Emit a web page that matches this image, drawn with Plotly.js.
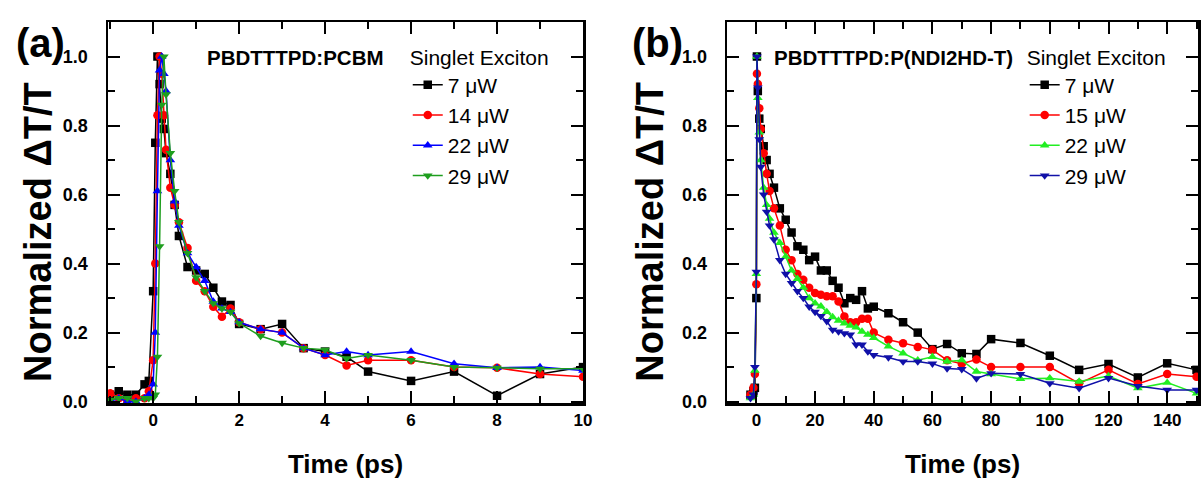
<!DOCTYPE html>
<html><head><meta charset="utf-8">
<script src="https://cdn.plot.ly/plotly-3.0.1.min.js"></script>
<style>html,body{margin:0;padding:0;background:#fff;} #chart{width:1203px;height:492px;}</style>
</head><body><div id="chart"></div>
<script>
// ---- Panel (a): PBDTTTPD:PCBM ----
const timeA = [-1, -0.8, -0.6, -0.4, -0.2, -0.1, 0, 0.05, 0.1, 0.15, 0.2, 0.25, 0.3, 0.4, 0.5, 0.6, 0.8, 1.0, 1.2, 1.4, 1.6, 1.8, 2.0, 2.5, 3.0, 3.5, 4.0, 4.5, 5, 6, 7, 8, 9, 10];
const a7uW  = [0.02, 0.03, 0.02, 0.02, 0.05, 0.06, 0.32, 0.75, 1.0, 0.92, 0.82, 0.79, 0.72, 0.66, 0.57, 0.48, 0.39, 0.38, 0.37, 0.33, 0.29, 0.28, 0.225, 0.21, 0.225, 0.155, 0.145, 0.13, 0.087, 0.06, 0.087, 0.017, 0.08, 0.1];
const a14uW = [0.024, 0.01, 0.0, 0.01, 0.01, 0.03, 0.12, 0.40, 0.83, 1.0, 0.95, 0.83, 0.73, 0.62, 0.57, 0.52, 0.445, 0.35, 0.32, 0.275, 0.246, 0.27, 0.23, 0.21, 0.20, 0.155, 0.135, 0.105, 0.12, 0.12, 0.10, 0.098, 0.08, 0.072];
const a22uW = [0.0, 0.01, 0.0, 0.0, 0.01, 0.02, 0.05, 0.20, 0.61, 0.96, 1.0, 0.95, 0.90, 0.70, 0.58, 0.51, 0.43, 0.39, 0.35, 0.29, 0.27, 0.26, 0.23, 0.21, 0.20, 0.155, 0.135, 0.145, 0.135, 0.145, 0.11, 0.098, 0.10, 0.09];
const a29uW = [0.005, 0.01, 0.01, 0.0, 0.01, 0.01, 0.01, 0.02, 0.13, 0.45, 0.86, 1.0, 0.89, 0.72, 0.61, 0.52, 0.43, 0.36, 0.32, 0.285, 0.27, 0.26, 0.227, 0.19, 0.17, 0.155, 0.15, 0.125, 0.135, 0.12, 0.10, 0.098, 0.095, 0.095];
const labelsA = ['7 \u03bcW', '14 \u03bcW', '22 \u03bcW', '29 \u03bcW'];
const xTickValsA = [0, 2, 4, 6, 8, 10];

// ---- Panel (b): PBDTTTPD:P(NDI2HD-T) ----
const timeB = [-2, -1, -0.5, 0, 0.2, 0.5, 1, 1.5, 2.5, 3.5, 4.5, 6, 8, 10, 12, 14, 16, 18, 20, 22, 24, 26, 28, 30, 32, 34, 36, 38, 40, 45, 50, 55, 60, 65, 70, 75, 80, 90, 100, 110, 120, 130, 140, 150];
const b7uW  = [0.02, 0.03, 0.04, 0.3, 1.0, 0.9, 0.82, 0.79, 0.74, 0.70, 0.66, 0.62, 0.56, 0.527, 0.49, 0.45, 0.44, 0.41, 0.42, 0.38, 0.38, 0.35, 0.33, 0.285, 0.30, 0.295, 0.32, 0.27, 0.275, 0.256, 0.23, 0.20, 0.152, 0.167, 0.14, 0.138, 0.181, 0.17, 0.133, 0.092, 0.109, 0.07, 0.111, 0.092];
const b15uW = [0.02, 0.04, 0.08, 0.34, 0.95, 0.92, 0.85, 0.79, 0.72, 0.66, 0.61, 0.56, 0.51, 0.44, 0.41, 0.37, 0.353, 0.33, 0.315, 0.31, 0.305, 0.305, 0.29, 0.247, 0.23, 0.23, 0.24, 0.24, 0.20, 0.179, 0.169, 0.158, 0.15, 0.12, 0.11, 0.122, 0.10, 0.10, 0.10, 0.053, 0.092, 0.051, 0.08, 0.072];
const b22uW = [0.01, 0.02, 0.09, 0.37, 1.0, 0.88, 0.78, 0.70, 0.62, 0.57, 0.53, 0.49, 0.46, 0.42, 0.38, 0.356, 0.33, 0.30, 0.285, 0.276, 0.26, 0.245, 0.235, 0.227, 0.22, 0.215, 0.203, 0.194, 0.185, 0.16, 0.14, 0.12, 0.13, 0.116, 0.12, 0.087, 0.08, 0.066, 0.068, 0.058, 0.074, 0.039, 0.055, 0.024];
const b29uW = [0.01, 0.02, 0.1, 0.376, 1.0, 0.91, 0.76, 0.68, 0.60, 0.55, 0.51, 0.47, 0.41, 0.37, 0.343, 0.32, 0.30, 0.275, 0.26, 0.248, 0.233, 0.208, 0.203, 0.198, 0.194, 0.165, 0.165, 0.145, 0.135, 0.128, 0.116, 0.116, 0.11, 0.096, 0.094, 0.067, 0.082, 0.08, 0.053, 0.039, 0.068, 0.045, 0.034, 0.034];
const labelsB = ['7 \u03bcW', '15 \u03bcW', '22 \u03bcW', '29 \u03bcW'];
const xTickValsB = [0, 20, 40, 60, 80, 100, 120, 140];

// ---- shared y ticks ----
const yTickVals = [0, 0.2, 0.4, 0.6, 0.8, 1.0];
const yTickText = ['0.0', '0.2', '0.4', '0.6', '0.8', '1.0'];

const FONT = 'Liberation Sans, Arial, sans-serif';
const symbols = ['square', 'circle', 'triangle-up', 'triangle-down'];
const colorsA = ['#000000', '#ff0000', '#0000ff', '#1e9e1e'];
const colorsB = ['#000000', '#ff0000', '#22ee22', '#1010a8'];
const seriesA = [a7uW, a14uW, a22uW, a29uW];
const seriesB = [b7uW, b15uW, b22uW, b29uW];
const bold = (arr) => arr.map(v => '<b>' + v + '</b>');

const traces = [];
seriesA.forEach((ys, i) => traces.push({
  x: timeA, y: ys, name: labelsA[i], type: 'scatter', mode: 'lines+markers',
  xaxis: 'x', yaxis: 'y',
  line: {color: colorsA[i], width: 1.5},
  marker: {symbol: symbols[i], size: 8.5, color: colorsA[i]}
}));
seriesB.forEach((ys, i) => traces.push({
  x: timeB, y: ys, name: labelsB[i], type: 'scatter', mode: 'lines+markers',
  xaxis: 'x2', yaxis: 'y2', legend: 'legend2',
  line: {color: colorsB[i], width: 1.5},
  marker: {symbol: symbols[i], size: 8.5, color: colorsB[i]}
}));
// empty traces that only activate the minor-tick overlay axes
traces.push({x: [], y: [], xaxis: 'x3', yaxis: 'y3', type: 'scatter', showlegend: false});
traces.push({x: [], y: [], xaxis: 'x4', yaxis: 'y4', type: 'scatter', showlegend: false});

const MAJOR = {ticks: 'inside', ticklen: 12, tickwidth: 2, tickcolor: '#000'};
const MINORT = {ticks: 'inside', ticklen: 7, tickwidth: 2, tickcolor: '#000'};

function xMain(domain, range, vals, anchor) {
  return Object.assign({
    domain: domain, range: range, anchor: anchor,
    tickmode: 'array', tickvals: vals, ticktext: bold(vals),
    showgrid: false, zeroline: false, showline: true, linecolor: '#000', linewidth: 2.5, mirror: 'allticks',
    tickfont: {family: FONT, size: 17, color: '#000'},
    title: {text: '<b>Time (ps)</b>', font: {family: FONT, size: 26, color: '#000'}, standoff: 26}
  }, MAJOR);
}
function yMain(anchor) {
  return Object.assign({
    anchor: anchor, range: [-0.004, 1.1],
    tickmode: 'array', tickvals: yTickVals, ticktext: bold(yTickText),
    showgrid: false, zeroline: false, showline: true, linecolor: '#000', linewidth: 2.5, mirror: 'allticks',
    tickfont: {family: FONT, size: 18, color: '#000'},
    ticklabelstandoff: 14
  }, MAJOR);
}
function xMinor(domain, range, dtick, anchor, over) {
  return Object.assign({
    domain: domain, range: range, anchor: anchor, overlaying: over, side: 'bottom',
    dtick: dtick, tick0: 0, showticklabels: false,
    showgrid: false, zeroline: false, showline: true, linecolor: '#000', linewidth: 2.5, mirror: 'allticks'
  }, MINORT);
}
function yMinor(anchor, over) {
  return Object.assign({
    anchor: anchor, overlaying: over, side: 'left', range: [-0.004, 1.1],
    dtick: 0.1, tick0: 0, showticklabels: false,
    showgrid: false, zeroline: false, showline: true, linecolor: '#000', linewidth: 2.5, mirror: 'allticks'
  }, MINORT);
}

const legendCommon = {
  bgcolor: 'rgba(0,0,0,0)', borderwidth: 0, yanchor: 'top', xanchor: 'left',
  font: {family: FONT, size: 21, color: '#000'},
  title: {text: 'Singlet Exciton', font: {family: FONT, size: 21, color: '#000'}},
  tracegroupgap: 0
};

const yTitle = (x) => ({text: '<b>Normalized \u0394T/T</b>', xref: 'paper', yref: 'paper', x: x, y: 0.449, textangle: -90,
  xanchor: 'center', yanchor: 'middle', showarrow: false, font: {family: FONT, size: 38, color: '#000'}});

const domA = [0, 0.4358], domB = [0.5679, 1];
const rangeA = [-1.05, 10.0], rangeB = [-10, 150.5];

const layout = {
  width: 1203, height: 492,
  margin: {l: 108, r: 5, t: 22, b: 89},
  font: {family: FONT, color: '#000'},
  paper_bgcolor: '#fff', plot_bgcolor: '#fff',
  showlegend: true,
  xaxis: xMain(domA, rangeA, xTickValsA, 'y'),
  yaxis: yMain('x'),
  xaxis2: xMain(domB, rangeB, xTickValsB, 'y2'),
  yaxis2: yMain('x2'),
  xaxis3: xMinor(domA, rangeA, 1, 'y', 'x'),
  yaxis3: yMinor('x', 'y'),
  xaxis4: xMinor(domB, rangeB, 10, 'y2', 'x2'),
  yaxis4: yMinor('x2', 'y2'),
  legend: Object.assign({}, legendCommon, {x: 0.275, y: 0.96}),
  legend2: Object.assign({}, legendCommon, {x: 0.841, y: 0.96}),
  annotations: [
    yTitle(-0.0642), yTitle(0.497),
    {text: '<b>(a)</b>', xref: 'paper', yref: 'paper', x: -0.0615, y: 0.945, xanchor: 'center', yanchor: 'middle', showarrow: false,
     font: {family: FONT, size: 40, color: '#000'}},
    {text: '<b>(b)</b>', xref: 'paper', yref: 'paper', x: 0.504, y: 0.945, xanchor: 'center', yanchor: 'middle', showarrow: false,
     font: {family: FONT, size: 40, color: '#000'}},
    {text: '<b>PBDTTTPD:PCBM</b>', xref: 'paper', yref: 'paper', x: 0.089, y: 0.908, xanchor: 'left', yanchor: 'middle', showarrow: false,
     font: {family: FONT, size: 20.5, color: '#000'}},
    {text: '<b>PBDTTTPD:P(NDI2HD-T)</b>', xref: 'paper', yref: 'paper', x: 0.6095, y: 0.908, xanchor: 'left', yanchor: 'middle', showarrow: false,
     font: {family: FONT, size: 20.5, color: '#000'}}
  ]
};

Plotly.newPlot('chart', traces, layout, {staticPlot: true, displayModeBar: false});
</script>
</body></html>
